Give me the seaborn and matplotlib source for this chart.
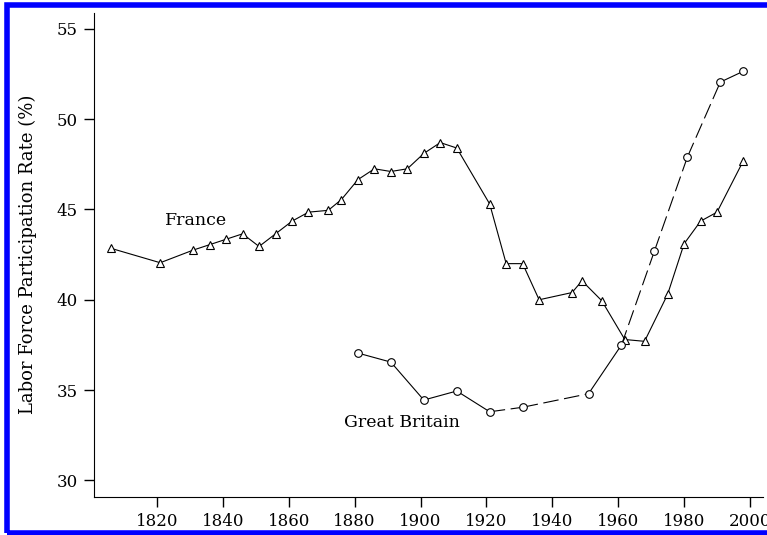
# Labor force participation, France vs Great Britain
import pandas as pd
import matplotlib.pyplot as plt
import seaborn as sns
from matplotlib.patches import Rectangle

# France (triangles, solid line)
france_years = [1806, 1821, 1831, 1836, 1841, 1846, 1851, 1856, 1861, 1866, 1872,
                1876, 1881, 1886, 1891, 1896, 1901, 1906, 1911, 1921, 1926, 1931,
                1936, 1946, 1949, 1955, 1962, 1968, 1975, 1980, 1985, 1990, 1998]
france_rate = [42.85, 42.05, 42.75, 43.05, 43.35, 43.65, 42.95, 43.65, 44.35, 44.85, 44.95,
               45.55, 46.65, 47.25, 47.1, 47.25, 48.1, 48.7, 48.4, 45.3, 42.0, 42.0,
               40.0, 40.4, 41.05, 39.95, 37.8, 37.7, 40.3, 43.1, 44.35, 44.85, 47.7]

# Great Britain (circles, mixed solid / dashed segments)
gb_years = [1881, 1891, 1901, 1911, 1921, 1931, 1951, 1961, 1971, 1981, 1991, 1998]
gb_rate = [37.05, 36.55, 34.45, 34.95, 33.8, 34.05, 34.8, 37.5, 42.7, 47.9, 52.05, 52.65]
# style of each segment between consecutive points
gb_segment_dashed = [False, False, False, False, True, True, False, True, True, True, False]

france = pd.DataFrame({'year': france_years, 'rate': france_rate})
gb = pd.DataFrame({'year': gb_years, 'rate': gb_rate})

sns.set_style('ticks', {'axes.edgecolor': 'black', 'text.color': 'black',
                        'axes.labelcolor': 'black', 'xtick.color': 'black',
                        'ytick.color': 'black'})
plt.rcParams['font.family'] = ['DejaVu Serif']

fig = plt.figure(figsize=(7.67, 5.35), dpi=100)
ax = fig.add_axes([0.123, 0.0716, 0.872, 0.905])

# France line + markers
sns.lineplot(data=france, x='year', y='rate', ax=ax, color='black', lw=0.8,
             marker='^', markersize=5.5, markerfacecolor='white',
             markeredgecolor='black', markeredgewidth=0.8, estimator=None)

# Great Britain segments
for i, dashed in enumerate(gb_segment_dashed):
    seg = gb.iloc[i:i + 2]
    sns.lineplot(data=seg, x='year', y='rate', ax=ax, color='black', lw=0.8,
                 linestyle=(0, (14, 5)) if dashed else '-', estimator=None)
sns.lineplot(data=gb, x='year', y='rate', ax=ax, color='black', lw=0,
             marker='o', markersize=5.5, markerfacecolor='white',
             markeredgecolor='black', markeredgewidth=0.8, estimator=None)

ax.text(1832, 44.4, 'France', fontsize=12.5, ha='center', va='center')
ax.text(1894.5, 33.2, 'Great Britain', fontsize=12.5, ha='center', va='center')

ax.set_xlim(1801, 2004)
ax.set_ylim(29.1, 55.9)
ax.set_xticks(range(1820, 2001, 20))
ax.set_yticks(range(30, 56, 5))
ax.set_xlabel('')
ax.set_ylabel('Labor Force Participation Rate (%)', fontsize=13, labelpad=14)
ax.tick_params(labelsize=12, length=7, width=1, pad=5)
sns.despine(ax=ax)

# blue frame around the figure
fig.patches.append(Rectangle((0.0085, 0.0035), 1.1, 0.9875, transform=fig.transFigure,
                             fill=False, edgecolor='#0000ff', lw=4, clip_on=False))

fig.savefig('out.png', dpi=100)
